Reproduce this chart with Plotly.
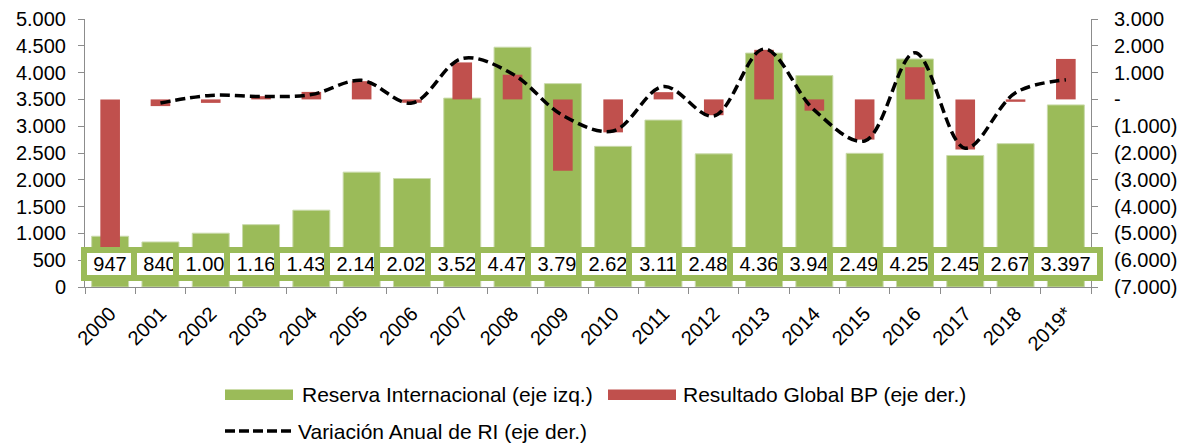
import plotly.graph_objects as go

# ---------------- data ----------------
years = ["2000", "2001", "2002", "2003", "2004", "2005", "2006", "2007", "2008", "2009",
         "2010", "2011", "2012", "2013", "2014", "2015", "2016", "2017", "2018", "2019*"]
reserva = [947, 840, 1004, 1163, 1433, 2143, 2024, 3524, 4474, 3794,
           2624, 3114, 2484, 4364, 3944, 2494, 4254, 2454, 2674, 3397]
resultado = [-5800, -250, -130, 120, 280, 680, -125, 1380, 920, -2660,
             -1230, 270, -590, 1850, -420, -1500, 1200, -1870, -90, 1510]
variacion = [None, -135, 150, 110, 180, 710, -135, 1530, 950, -600,
             -1180, 480, -620, 1880, -400, -1550, 1740, -1820, 250, 730]
left_ticks = [0, 500, 1000, 1500, 2000, 2500, 3000, 3500, 4000, 4500, 5000]
right_ticks = [-7000, -6000, -5000, -4000, -3000, -2000, -1000, 0, 1000, 2000, 3000]
names = ["Reserva Internacional (eje izq.)", "Resultado Global BP (eje der.)",
         "Variación Anual de RI (eje der.)"]

GREEN = "#9BBB59"
RED = "#C0504D"
AXIS = "#8C8C8C"
FONT = "Liberation Sans, Arial, sans-serif"

# page body has an 8px margin; figure is laid out so that page coords match
OFF = 8
W, H = 1186 - OFF, 446 - OFF
PL, PR, PT, PB = 85, 1091, 19, 287   # plot area in page pixels


def fmt(v):
    return f"{abs(v):,}".replace(",", ".")


def fmt_right(v):
    if v == 0:
        return "-"
    return f"({fmt(v)})" if v < 0 else fmt(v)


fig = go.Figure()
fig.add_trace(go.Bar(x=years, y=reserva, name=names[0],
                     marker=dict(color=GREEN, line=dict(width=1, color="#C9DAAA")),
                     width=0.735, yaxis="y", showlegend=False))
fig.add_trace(go.Bar(x=years, y=resultado, name=names[1], marker=dict(color=RED, line=dict(width=0)),
                     width=0.39, yaxis="y2", showlegend=False))
fig.add_trace(go.Scatter(x=years, y=variacion, name=names[2], mode="lines", yaxis="y2",
                         line=dict(color="black", width=3.5, dash="10px,5px", shape="spline", smoothing=1.0),
                         connectgaps=False, showlegend=False))


def px_x(px):
    return (px - PL) / (PR - PL)


def px_y(py):
    return (PB - py) / (PB - PT)


annotations = []
# data table row (labels of reserves)
fs = 20
for i, v in enumerate(reserva):
    t = fmt(v)
    tw = sum(0.278 * fs if ch == "." else 0.556 * fs for ch in t)
    annotations.append(dict(x=i, xref="x", y=px_y(263.5), yref="paper", text=t, showarrow=False,
                            xanchor="center", yanchor="middle",
                            font=dict(family=FONT, size=fs, color="black"),
                            bgcolor="white", bordercolor=GREEN, borderwidth=6, borderpad=0,
                            width=round(tw + 13)))

# manual legend
shapes = [
    dict(type="rect", xref="paper", yref="paper", x0=px_x(225), x1=px_x(293), y0=px_y(389.5), y1=px_y(400),
         fillcolor=GREEN, line=dict(width=0)),
    dict(type="rect", xref="paper", yref="paper", x0=px_x(608), x1=px_x(676), y0=px_y(389.5), y1=px_y(400),
         fillcolor=RED, line=dict(width=0)),
    dict(type="line", xref="paper", yref="paper", x0=px_x(225), x1=px_x(295), y0=px_y(431), y1=px_y(431),
         line=dict(color="black", width=3.5, dash="10px,4px")),
]
for name, x, y in [(names[0], 302, 394), (names[1], 683, 394), (names[2], 298, 431.5)]:
    annotations.append(dict(x=px_x(x), xref="paper", y=px_y(y), yref="paper", text=name, showarrow=False,
                            xanchor="left", yanchor="middle", borderpad=0, borderwidth=0,
                            font=dict(family=FONT, size=21, color="black")))

fig.update_layout(
    width=W, height=H,
    margin=dict(l=PL - OFF, r=W - (PR - OFF), t=PT - OFF, b=H - (PB - OFF), autoexpand=False),
    paper_bgcolor="white", plot_bgcolor="white",
    font=dict(family=FONT, size=20, color="black"),
    barmode="overlay",
    xaxis=dict(type="category", range=[-0.5, 19.5], showgrid=False, showline=True, linecolor=AXIS,
               linewidth=1, ticks="outside", tickson="boundaries", ticklen=6, tickcolor=AXIS,
               tickangle=-45, tickfont=dict(size=20), zeroline=False, automargin=False,
               ticklabelstandoff=6),
    yaxis=dict(range=[0, 5000], tickvals=left_ticks, ticktext=[fmt(v) for v in left_ticks],
               showgrid=False, showline=True, linecolor=AXIS, linewidth=1, ticks="outside",
               ticklen=6, tickcolor=AXIS, zeroline=False, ticklabelstandoff=8, tickfont=dict(size=20),
               automargin=False),
    yaxis2=dict(range=[-7000, 3000], overlaying="y", side="right", tickvals=right_ticks,
                ticktext=[fmt_right(v) for v in right_ticks], showgrid=False, showline=True,
                linecolor=AXIS, linewidth=1, ticks="outside", ticklen=6, tickcolor=AXIS,
                zeroline=False, ticklabelstandoff=12, tickfont=dict(size=20), automargin=False),
    shapes=shapes,
    annotations=annotations,
)

fig.write_html("out.html")
